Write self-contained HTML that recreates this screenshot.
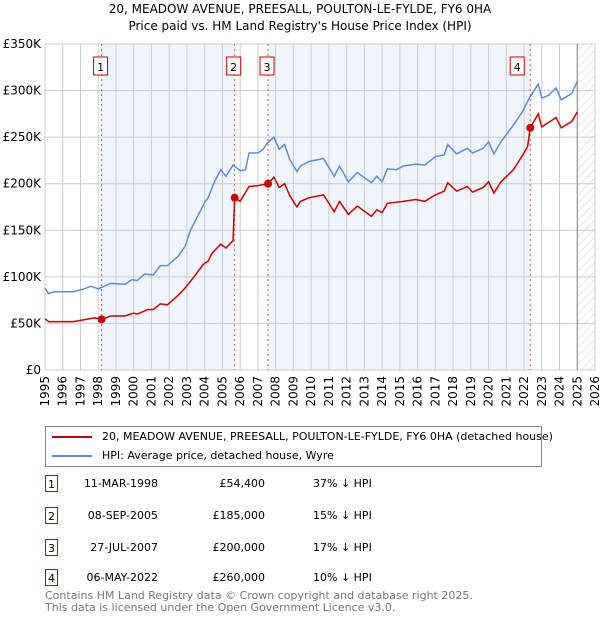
<!DOCTYPE html>
<html><head><meta charset="utf-8">
<style>
body{margin:0;background:#fff;font-family:"DejaVu Sans","Liberation Sans",sans-serif;}
#wrap{position:relative;width:600px;height:620px;overflow:hidden;}
.t{position:absolute;font-size:12px;color:#000;white-space:nowrap;}
.box{position:absolute;width:13px;height:17px;border:1px solid #c00;font-size:11px;text-align:center;line-height:17px;box-sizing:border-box;background:#fff;}
</style></head><body>
<div id="wrap">
<div class="t" style="left:0;width:600px;text-align:center;top:2px;font-size:12px">20, MEADOW AVENUE, PREESALL, POULTON-LE-FYLDE, FY6 0HA</div>
<div class="t" style="left:0;width:600px;text-align:center;top:19px;font-size:12px">Price paid vs. HM Land Registry's House Price Index (HPI)</div>
<svg id="chart" width="600" height="420" style="position:absolute;left:0;top:0" font-family="DejaVu Sans, Liberation Sans, sans-serif">
<defs><pattern id="hatch" width="6" height="6" patternUnits="userSpaceOnUse" patternTransform="rotate(45)"><line x1="0" y1="0" x2="0" y2="6" stroke="#ccc" stroke-width="1"/></pattern></defs>
<g id="bg"></g><g id="grid"></g><g id="lines"></g><g id="marks"></g><g id="axes"></g>
</svg>
<div style="position:absolute;left:45px;top:426px;width:497px;height:41px;border:1px solid #888;box-sizing:border-box">
<div style="position:absolute;left:6px;top:3px;font-size:11px;white-space:nowrap"><span style="display:inline-block;width:40px;height:2px;background:#c00;vertical-align:middle;margin-right:10px"></span>20, MEADOW AVENUE, PREESALL, POULTON-LE-FYLDE, FY6 0HA (detached house)</div>
<div style="position:absolute;left:6px;top:22px;font-size:11px;white-space:nowrap"><span style="display:inline-block;width:40px;height:2px;background:#5b8fd0;vertical-align:middle;margin-right:10px"></span>HPI: Average price, detached house, Wyre</div>
</div>
<div id="table"></div>
<div class="t" style="left:45px;top:589px;font-size:11px;color:#777">Contains HM Land Registry data © Crown copyright and database right 2025.</div>
<div class="t" style="left:45px;top:601px;font-size:11px;color:#777">This data is licensed under the Open Government Licence v3.0.</div>
</div>
<script>
const hpiYears=[1995.0,1995.2,1995.5,1996.6,1997.2,1997.6,1998.0,1998.7,1999.5,1999.9,2000.2,2000.6,2001.1,2001.5,2001.9,2002.5,2002.9,2003.2,2003.6,2004.0,2004.2,2004.5,2004.9,2005.2,2005.6,2006.0,2006.3,2006.5,2007.0,2007.3,2007.5,2007.9,2008.2,2008.5,2008.8,2009.2,2009.4,2009.9,2010.7,2011.3,2011.6,2012.1,2012.6,2013.4,2013.7,2014.0,2014.3,2014.8,2015.2,2015.9,2016.4,2017.0,2017.5,2017.7,2018.2,2018.8,2019.1,2019.7,2020.0,2020.3,2020.7,2021.4,2021.9,2022.3,2022.8,2023.0,2023.4,2023.8,2024.1,2024.7,2025.0];
const hpiValues=[88,82,84,84,87,90,87,93,92,97,96,103,102,112,112,122,133,150,165,180,185,200,215,208,220,214,215,233,233,237,243,250,237,242,226,213,219,224,227,208,219,202,212,201,208,202,216,215,219,221,220,229,231,242,232,238,233,238,245,232,245,263,277,292,307,292,295,303,290,297,310];
const ppYears=[1995.0,1995.2,1996.6,1997.2,1997.8,1998.19,1998.7,1999.5,2000.0,2000.2,2000.8,2001.1,2001.5,2001.9,2002.5,2002.9,2003.4,2003.9,2004.2,2004.4,2004.9,2005.2,2005.6,2005.69,2006.0,2006.5,2007.0,2007.57,2007.9,2008.2,2008.5,2008.8,2009.2,2009.4,2009.9,2010.7,2011.3,2011.6,2012.1,2012.6,2013.4,2013.7,2014.0,2014.3,2015.2,2015.9,2016.4,2017.0,2017.5,2017.7,2018.2,2018.8,2019.1,2019.7,2020.0,2020.3,2020.7,2021.4,2021.9,2022.2,2022.35,2022.8,2023.0,2023.8,2024.1,2024.7,2025.0];
const ppValues=[55,52,52,54,56,54.4,58,58,61,60,65,65,71,70,80,88,100,113,117,125,135,131,139,185,181,197,198,200,207,196,200,187,175,181,185,188,170,181,167,176,165,172,169,179,181,183,181,188,192,201,192,197,191,196,202,190,202,215,230,240,260,275,261,271,260,267,277];
const saleYears=[1998.19,2005.69,2007.57,2022.35];
const saleValues=[54.4,185,200,260];
const saleLabels=["1","2","3","4"];
const saleDates=["11-MAR-1998","08-SEP-2005","27-JUL-2007","06-MAY-2022"];
const salePrices=["£54,400","£185,000","£200,000","£260,000"];
const saleDiffs=["37% ↓ HPI","15% ↓ HPI","17% ↓ HPI","10% ↓ HPI"];
const yTicks=[0,50,100,150,200,250,300,350];
const yTickLabels=["£0","£50K","£100K","£150K","£200K","£250K","£300K","£350K"];
const xTicks=[1995,1996,1997,1998,1999,2000,2001,2002,2003,2004,2005,2006,2007,2008,2009,2010,2011,2012,2013,2014,2015,2016,2017,2018,2019,2020,2021,2022,2023,2024,2025,2026];

const X0=45,X1=595,Y0=370,Y1=44;
const xs=y=>X0+(y-1995)/31*(X1-X0);
const ys=v=>Y0-v/350*(Y0-Y1);
const NS="http://www.w3.org/2000/svg";
function mk(tag,attrs,parent){const e=document.createElementNS(NS,tag);for(const k in attrs)e.setAttribute(k,attrs[k]);document.getElementById(parent).appendChild(e);return e;}

let r=mk('rect',{x:xs(saleYears[0]),y:Y1,width:xs(saleYears[1])-xs(saleYears[0]),height:Y0-Y1,fill:'#f0f4fc'},'bg');


r=mk('rect',{x:xs(saleYears[2]),y:Y1,width:xs(saleYears[3])-xs(saleYears[2]),height:Y0-Y1,fill:'#f0f4fc'},'bg');


r=mk('rect',{x:xs(2025.0),y:Y1,width:X1-xs(2025.0),height:Y0-Y1,fill:'url(#hatch)'},'bg');



xTicks.forEach((t,i)=>{
  const l=mk('line',{x1:xs(t),x2:xs(t),y1:Y1,y2:Y0,stroke:'#ccc','stroke-width':1},'grid');
  
  
  const tx=mk('text',{x:0,y:0,'font-size':12,'text-anchor':'end',transform:`translate(${xs(t)+4},${Y0+6}) rotate(-90)`},'axes');
  tx.textContent=t;
  
  
});
yTicks.forEach((t,i)=>{
  const l=mk('line',{x1:X0,x2:X1,y1:ys(t),y2:ys(t),stroke:'#ccc','stroke-width':1},'grid');
  
  
  const tx=mk('text',{x:X0-4,y:ys(t)+4,'font-size':12,'text-anchor':'end'},'axes');
  tx.textContent=yTickLabels[i];
  
  
});
let vl=mk('line',{x1:xs(2025.0),x2:xs(2025.0),y1:Y1,y2:Y0,stroke:'#888','stroke-width':1},'grid');



saleYears.forEach((y,i)=>{
  const l=mk('line',{x1:xs(y),x2:xs(y),y1:Y1,y2:Y0,stroke:'#e05050','stroke-width':1,'stroke-dasharray':'2,3'},'grid');
  
  
  const bx=mk('rect',{x:xs(y)-(i==3?20:8),y:57,width:14,height:18,fill:'#fff',stroke:'#c00'},'marks');
  
  
  const t=mk('text',{x:xs(y)-(i==3?13:1),y:71,'font-size':11,'text-anchor':'middle'},'marks');
  t.textContent=saleLabels[i];
  
  
});

let p=mk('polyline',{points:hpiYears.map((y,i)=>xs(y)+','+ys(hpiValues[i])).join(' '),fill:'none',stroke:'#5b8fd0','stroke-width':1.5},'lines');


p=mk('polyline',{points:ppYears.map((y,i)=>xs(y)+','+ys(ppValues[i])).join(' '),fill:'none',stroke:'#cc0000','stroke-width':1.5},'lines');


saleYears.forEach((y,i)=>{
  const c=mk('circle',{cx:xs(y),cy:ys(saleValues[i]),r:4,fill:'#cc0000'},'marks');
  
  
});

const tb=document.getElementById('table');
const rowY=[475,507,539,569];
saleDates.forEach((d,i)=>{
  const row=document.createElement('div');
  
  
  row.style.cssText=`position:absolute;left:0;top:${rowY[i]}px;width:600px;height:18px;font-size:11px`;
  row.innerHTML=`<div class="box" style="left:45px;top:0">${saleLabels[i]}</div>
<div class="t" style="font-size:11px;right:442px;top:2px">${d}</div>
<div class="t" style="font-size:11px;right:335px;top:2px">${salePrices[i]}</div>
<div class="t" style="font-size:11px;left:313px;top:2px">${saleDiffs[i]}</div>`;
  tb.appendChild(row);
});
</script>
</body></html>
